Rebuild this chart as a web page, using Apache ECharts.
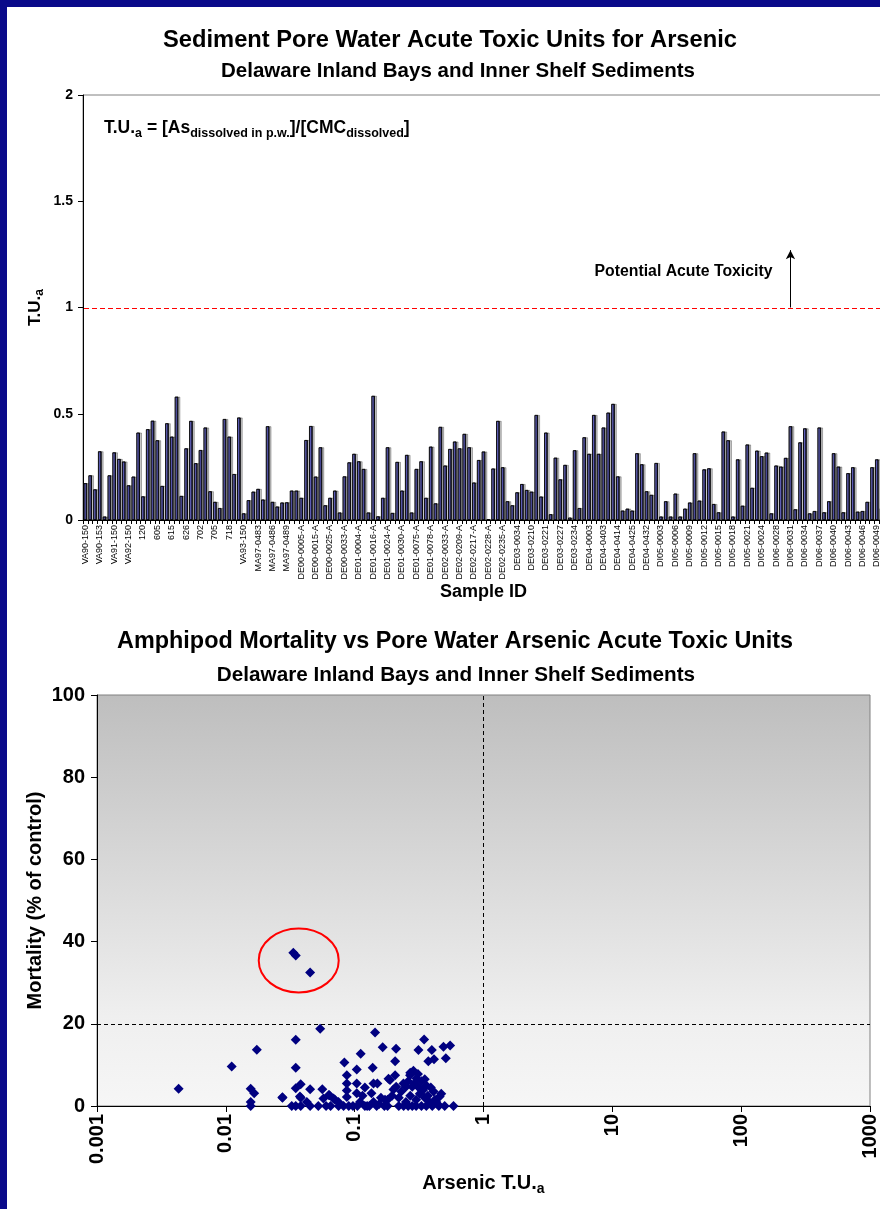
<!DOCTYPE html>
<html><head><meta charset="utf-8">
<script src="https://cdn.jsdelivr.net/npm/echarts@6/dist/echarts.min.js"></script>
<style>html,body{margin:0;padding:0;background:#fff;overflow:hidden}#c{width:880px;height:1209px}</style>
</head><body><div id="c"></div><script>
const FONT = 'Liberation Sans, Arial, Helvetica, sans-serif';

const sampleIds = [
'VA90-150','VA90-151','VA90-152','VA90-153','VA90-154','VA90-155','VA91-150','VA91-151','VA91-152','VA92-150','VA92-151','VA92-152',
'120','601','603','605','608','611','615','618','622','626','630','701','702','703','704','705','710','715','718','720','725',
'VA93-150','MA97-0481','MA97-0482','MA97-0483','MA97-0484','MA97-0485','MA97-0486','MA97-0487','MA97-0488','MA97-0489','MA97-0490',
'DE00-0001-A','DE00-0005-A','DE00-0010-A','DE00-0012-A','DE00-0015-A','DE00-0018-A','DE00-0020-A','DE00-0025-A','DE00-0028-A','DE00-0030-A','DE00-0033-A','DE00-0035-A',
'DE01-0001-A','DE01-0004-A','DE01-0008-A','DE01-0012-A','DE01-0016-A','DE01-0019-A','DE01-0021-A','DE01-0024-A','DE01-0026-A','DE01-0028-A','DE01-0030-A',
'DE01-0070-A','DE01-0072-A','DE01-0075-A','DE01-0076-A','DE01-0077-A','DE01-0078-A',
'DE02-0030-A','DE02-0031-A','DE02-0033-A','DE02-0201-A','DE02-0205-A','DE02-0209-A','DE02-0212-A','DE02-0215-A','DE02-0217-A','DE02-0220-A','DE02-0224-A','DE02-0228-A','DE02-0230-A','DE02-0232-A','DE02-0235-A',
'DE03-0030','DE03-0032','DE03-0034','DE03-0201','DE03-0205','DE03-0210','DE03-0214','DE03-0218','DE03-0221','DE03-0223','DE03-0225','DE03-0227','DE03-0229','DE03-0231','DE03-0234',
'DE04-0001','DE04-0002','DE04-0003','DE04-0004','DE04-0401','DE04-0403','DE04-0407','DE04-0410','DE04-0414','DE04-0417','DE04-0421','DE04-0425','DE04-0427','DE04-0430','DE04-0432','DE04-0434',
'DI05-0001','DI05-0003','DI05-0004','DI05-0005','DI05-0006','DI05-0007','DI05-0008','DI05-0009','DI05-0010','DI05-0011','DI05-0012','DI05-0013','DI05-0014','DI05-0015','DI05-0016','DI05-0017','DI05-0018','DI05-0019','DI05-0020','DI05-0021','DI05-0022','DI05-0023','DI05-0024','DI05-0025',
'DI06-0027','DI06-0028','DI06-0029','DI06-0030','DI06-0031','DI06-0032','DI06-0033','DI06-0034','DI06-0035','DI06-0036','DI06-0037','DI06-0038','DI06-0039','DI06-0040','DI06-0041','DI06-0042','DI06-0043','DI06-0044','DI06-0045','DI06-0046','DI06-0047','DI06-0048','DI06-0049','DI06-0050'
];

const tuValues = [
0.173,0.21,0.144,0.323,0.016,0.21,0.318,0.287,0.275,0.163,0.204,0.411,0.111,0.427,0.467,0.375,0.16,0.455,0.392,0.58,
0.113,0.337,0.466,0.267,0.329,0.435,0.135,0.085,0.056,0.475,0.392,0.216,0.482,0.031,0.093,0.133,0.146,0.096,0.441,0.085,0.063,
0.082,0.083,0.138,0.138,0.104,0.376,0.442,0.204,0.342,0.069,0.104,0.138,0.035,0.205,0.271,0.311,0.276,0.24,0.035,0.584,
0.017,0.104,0.342,0.033,0.273,0.138,0.306,0.035,0.24,0.276,0.104,0.345,0.078,0.438,0.256,0.334,0.369,0.337,0.405,0.342,
0.176,0.282,0.322,0.003,0.242,0.466,0.248,0.088,0.069,0.13,0.169,0.141,0.133,0.494,0.11,0.411,0.027,0.293,0.191,0.259,
0.011,0.328,0.056,0.389,0.311,0.494,0.311,0.435,0.505,0.546,0.205,0.044,0.053,0.044,0.314,0.262,0.135,0.118,0.268,0.016,
0.088,0.016,0.124,0.016,0.053,0.082,0.314,0.091,0.238,0.243,0.075,0.036,0.416,0.375,0.016,0.285,0.067,0.355,0.151,0.326,
0.30,0.317,0.031,0.256,0.251,0.292,0.441,0.05,0.365,0.431,0.031,0.042,0.435,0.036,0.088,0.314,0.251,0.036,0.22,0.248,
0.039,0.042,0.085,0.248,0.285,0.055
];

const toxicityThreshold = 1;
const arrowSample = 'DI06-0031';
const arrowTop = 1.27;

const scatterTU = [
0.0043,0.0111,0.0174,0.0156,0.0166,0.0156,0.0156,0.0275,
0.0334,0.0349,0.0451,
0.054,0.0349,0.0349,0.0349,0.0381,0.0325,0.0349,0.0381,0.0381,0.0425,0.0451,0.0451,0.0522,0.0561,0.0572,0.0637,0.0684,0.0748,
0.0832,0.0869,0.0869,0.0869,0.0869,0.082,0.09,0.097,0.1038,0.1114,0.1038,0.1038,0.105,
0.138,0.144,0.165,0.14,0.15,0.135,0.14,0.13,0.125,0.148,0.183,0.18,0.18,
0.346,0.2095,0.3126,0.397,0.489,0.551,0.206,0.373,0.413,0.51,0.286,0.206,0.269,0.302,0.188,0.239,
0.21,0.25,0.28,0.31,0.34,0.41,0.457,0.585,0.5,0.45,0.4,0.36,
0.22,0.24,0.26,0.28,0.3,0.33,0.22,0.25,0.27,0.3,0.32,0.35,0.38,0.42,0.23,0.26,0.29,0.31,0.33,0.36,0.27,0.195,0.2,
0.11,0.115,0.12,0.16,0.17,0.155,0.12,0.065,0.075,0.06,0.0275,0.0376,0.063,0.07,0.172,0.47,0.43,0.39,0.44,0.37,0.35
];
const scatterMortality = [
4.2,9.6,13.7,4.2,3.1,1.0,0,2.0,
37.3,36.6,32.5,
18.8,16.1,9.3,4.3,5.3,0,0,0,2.0,1.0,4.1,0,0,4.1,1.8,2.6,1.8,1.0,
10.6,7.5,5.5,3.8,2.2,0,0,0,8.9,12.7,5.5,3.1,0,
9.3,17.9,14.3,5.5,5.5,3.1,1.0,0,0,0,6.6,1.5,0,
16.2,13.9,13.6,13.6,14.4,14.7,10.9,10.9,11.4,11.6,8.6,7.5,7.5,6.7,6.3,5.5,
4.7,4.7,4.7,4.7,3.9,3.5,2.3,0,0,0,0,0,
0,0,0,0,0,0,2,1,2.5,1.5,3,2,1,1.5,3.5,6,5.5,7.8,6,5,8.1,2.5,4,
1,2.5,4.5,2,0,0.5,0,0,0,0,2.1,2.3,2.7,1.6,1.5,3,1,4.5,0.5,2.5,6.5
];
const xTickLabels = ['0.001','0.01','0.1','1','10','100','1000'];
const circledTU = 0.0368, circledMortality = 35.4;
const mortalityThreshold = 20;

const chart = echarts.init(document.getElementById('c'), null, {renderer:'canvas'});

function subRich(main, sub){
  return {
    m:{fontSize:main,fontWeight:'bold',fontFamily:FONT,color:'#000',lineHeight:Math.round(main*1.3),verticalAlign:'middle'},
    s:{fontSize:sub,fontWeight:'bold',fontFamily:FONT,color:'#000',lineHeight:sub,verticalAlign:'bottom'}
  };
}

const barColor = {type:'linear',x:0,y:0,x2:1,y2:0,colorStops:[
  {offset:0,color:'#a8a8ff'},{offset:0.45,color:'#5656ae'},{offset:1,color:'#3a3a7c'}]};

const BAR_GRID = {left:83, top:95, width:801, height:425};

const option = {
  animation:false,
  backgroundColor:'#ffffff',
  textStyle:{fontFamily:FONT},
  grid:[
    Object.assign({show:true, borderColor:'#808080', borderWidth:1, backgroundColor:'rgba(0,0,0,0)', outerBoundsMode:'none', containLabel:false}, BAR_GRID),
    {left:97, top:695, width:773, height:411, show:true, borderColor:'#808080', borderWidth:1, outerBoundsMode:'none', containLabel:false,
     backgroundColor:{type:'linear',x:0,y:0,x2:0,y2:1,colorStops:[{offset:0,color:'#bebebe'},{offset:0.78,color:'#efefef'},{offset:1,color:'#f6f6f6'}]}}
  ],
  xAxis:[
    {type:'category', gridIndex:0, data:sampleIds, boundaryGap:true,
     axisLine:{show:true,lineStyle:{color:'#000',width:1}},
     axisTick:{show:true,interval:0,length:4,lineStyle:{color:'#000'}},
     axisLabel:{interval:2, rotate:90, fontSize:9, color:'#000', margin:5, fontFamily:FONT},
     splitLine:{show:false},
     name:'Sample ID', nameLocation:'middle', nameGap:63,
     nameTextStyle:{fontSize:18,fontWeight:'bold',color:'#000',fontFamily:FONT}},
    {type:'log', gridIndex:1, logBase:10, min:0.001, max:1000, interval:1,
     axisLine:{show:true,onZero:false,lineStyle:{color:'#000',width:1}},
     axisTick:{show:true,length:6,lineStyle:{color:'#000'}},
     minorTick:{show:false}, splitLine:{show:false}, minorSplitLine:{show:false},
     axisLabel:{rotate:90, fontSize:20, fontWeight:'bold', color:'#000', margin:8, fontFamily:FONT,
       formatter:function(v){const k=Math.round(Math.log10(v))+3; return xTickLabels[k]!==undefined?xTickLabels[k]:'';}},
     name:'{m|Arsenic T.U.}{s|a}', nameLocation:'middle', nameGap:64,
     nameTextStyle:{rich:subRich(20,14)}}
  ],
  yAxis:[
    {type:'value', gridIndex:0, min:0, max:2, interval:0.5,
     axisLine:{show:true,lineStyle:{color:'#000',width:1}},
     axisTick:{show:true,length:5,lineStyle:{color:'#000'}},
     splitLine:{show:false},
     axisLabel:{fontSize:14,fontWeight:'bold',color:'#000',margin:10,fontFamily:FONT},
     name:'{m|T.U.}{s|a}', nameLocation:'middle', nameGap:37, nameMoveOverlap:false,
     nameTextStyle:{rich:subRich(17,12)}},
    {type:'value', gridIndex:1, min:0, max:100, interval:20,
     axisLine:{show:true,lineStyle:{color:'#000',width:1}},
     axisTick:{show:true,length:6,lineStyle:{color:'#000'}},
     splitLine:{show:false},
     axisLabel:{fontSize:20,fontWeight:'bold',color:'#000',margin:12,fontFamily:FONT},
     name:'Mortality (% of control)', nameLocation:'middle', nameGap:52, nameMoveOverlap:false,
     nameTextStyle:{fontSize:20,fontWeight:'bold',color:'#000',fontFamily:FONT}}
  ],
  series:[
    {type:'bar', xAxisIndex:0, yAxisIndex:0, data:tuValues, barWidth:3.4,
     itemStyle:{color:barColor, borderColor:'#000', borderWidth:0.7, shadowColor:'rgba(0,0,0,0.22)', shadowOffsetX:2, shadowOffsetY:0, shadowBlur:0},
     emphasis:{disabled:true}},
    {type:'line', xAxisIndex:0, yAxisIndex:0, data:[], silent:true, color:'#000000',
     markLine:{silent:true, animation:false, label:{show:false},
       lineStyle:{color:'#000000',type:'solid',width:1},
       data:[[{coord:[arrowSample,toxicityThreshold], symbol:'none'},
              {coord:[arrowSample,arrowTop], symbol:'arrow', symbolSize:[7,9]}]]}},
    {type:'scatter', xAxisIndex:1, yAxisIndex:1, symbol:'diamond', symbolSize:10,
     data:scatterTU.map((v,i)=>[v,scatterMortality[i]]),
     itemStyle:{color:'#000080',opacity:1}, emphasis:{disabled:true},
     markLine:{silent:true, animation:false, symbol:'none', label:{show:false},
       lineStyle:{color:'#000',type:[4,3],width:1},
       data:[{xAxis:1},{yAxis:mortalityThreshold}]}}
  ]
};
chart.setOption(option);

const arrowPx = chart.convertToPixel({xAxisIndex:0,yAxisIndex:0},[arrowSample,1.17]);
const ell = chart.convertToPixel({xAxisIndex:1,yAxisIndex:1},[circledTU,circledMortality]);
const thrY = Math.round(chart.convertToPixel({yAxisIndex:0}, toxicityThreshold)) + 0.5;

chart.setOption({graphic:[
  {type:'rect',shape:{x:0,y:0,width:7,height:1209},style:{fill:'#0a0a8a'},z:100},
  {type:'rect',shape:{x:0,y:0,width:880,height:7},style:{fill:'#0a0a8a'},z:100},
  {type:'line',shape:{x1:BAR_GRID.left+1,y1:thrY,x2:BAR_GRID.left+BAR_GRID.width,y2:thrY},style:{stroke:'#ff0000',lineWidth:1,lineDash:[5,3]},z:40,silent:true},
  {type:'text',x:450,y:40,style:{text:'Sediment Pore Water Acute Toxic Units for Arsenic',fontSize:23.7,fontWeight:'bold',fontFamily:FONT,fill:'#000',textAlign:'center',textVerticalAlign:'middle',verticalAlign:'middle'}},
  {type:'text',x:458,y:71,style:{text:'Delaware Inland Bays and Inner Shelf Sediments',fontSize:20.5,fontWeight:'bold',fontFamily:FONT,fill:'#000',textAlign:'center',textVerticalAlign:'middle',verticalAlign:'middle'}},
  {type:'text',x:455,y:642,style:{text:'Amphipod Mortality vs Pore Water Arsenic Acute Toxic Units',fontSize:23.4,fontWeight:'bold',fontFamily:FONT,fill:'#000',textAlign:'center',textVerticalAlign:'middle',verticalAlign:'middle'}},
  {type:'text',x:456,y:675,style:{text:'Delaware Inland Bays and Inner Shelf Sediments',fontSize:20.7,fontWeight:'bold',fontFamily:FONT,fill:'#000',textAlign:'center',textVerticalAlign:'middle',verticalAlign:'middle'}},
  {type:'text',x:104,y:117,style:{text:'{m|T.U.}{s|a}{m| = [As}{s|dissolved in p.w.}{m|]/[CMC}{s|dissolved}{m|]}',rich:subRich(17.5,12.5)}},
  {type:'text',x:arrowPx[0]-18,y:arrowPx[1],style:{text:'Potential Acute Toxicity',fontSize:15.8,fontWeight:'bold',fontFamily:FONT,fill:'#000',textAlign:'right',textVerticalAlign:'middle',verticalAlign:'middle'}},
  {type:'ellipse',shape:{cx:ell[0],cy:ell[1],rx:40,ry:32},style:{fill:'none',stroke:'#ff0000',lineWidth:2},z:50}
]});
</script></body></html>
